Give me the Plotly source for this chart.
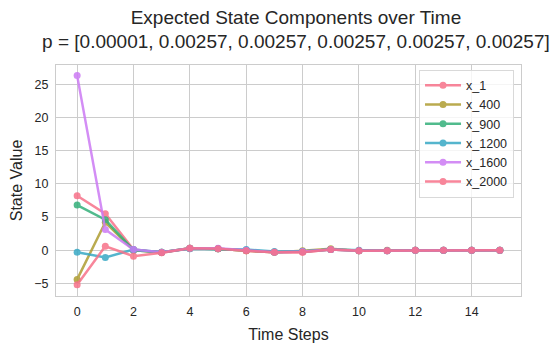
import plotly.graph_objects as go

# expected state components
time_steps = list(range(16))
series_names = ["x_1", "x_400", "x_900", "x_1200", "x_1600", "x_2000"]
x_1 = [8.2, 5.5, 0.1, -0.4, 0.3, 0.2, -0.1, -0.3, -0.3, 0.1, -0.1, -0.1, 0.0, 0.0, 0.0, 0.0]
x_400 = [-4.4, 4.2, 0.0, -0.3, 0.3, 0.2, -0.1, -0.3, -0.1, 0.2, -0.1, 0.0, 0.0, 0.0, 0.0, 0.0]
x_900 = [6.8, 4.6, 0.0, -0.3, 0.3, 0.2, 0.0, -0.3, -0.2, 0.1, -0.1, -0.1, 0.0, 0.0, 0.0, 0.0]
x_1200 = [-0.3, -1.1, 0.1, -0.3, 0.2, 0.2, 0.1, -0.2, -0.2, 0.1, 0.0, -0.1, 0.0, 0.0, 0.0, 0.0]
x_1600 = [26.3, 3.1, 0.1, -0.3, 0.3, 0.3, 0.0, -0.3, -0.2, 0.1, -0.1, -0.1, 0.0, 0.0, 0.0, 0.0]
x_2000 = [-5.2, 0.6, -0.9, -0.4, 0.3, 0.2, -0.1, -0.3, -0.3, 0.1, -0.1, -0.1, 0.0, 0.0, 0.0, 0.0]
all_series = [x_1, x_400, x_900, x_1200, x_1600, x_2000]

# husl palette, 5 colours cycled
colors = ["#f77189", "#ae9d31", "#33b07a", "#38a9c5", "#cc7af4", "#f77189"]

FONT = "Liberation Sans, Arial, sans-serif"

# page body has an 8px margin, so the figure is 8px smaller than the window
fig = go.Figure()
for name, values, color in zip(series_names, all_series, colors):
    fig.add_trace(go.Scatter(
        x=time_steps,
        y=values,
        name=name,
        mode="lines+markers",
        line=dict(color=color, width=2.5),
        marker=dict(color=color, size=7),
        opacity=0.85,
    ))

fig.update_layout(
    width=552,
    height=340,
    margin=dict(l=48, r=39, t=57, b=52, autoexpand=False),
    paper_bgcolor="white",
    plot_bgcolor="white",
    font=dict(family=FONT, color="#262626", size=12.5),
    title=dict(
        text="Expected State Components over Time<br>p = [0.00001, 0.00257, 0.00257, 0.00257, 0.00257, 0.00257]",
        x=0.516,
        xanchor="center",
        xref="paper",
        y=1 - 15.5 / 340,
        yanchor="middle",
        yref="container",
        automargin=False,
        font=dict(size=19, color="#262626"),
    ),
    showlegend=True,
    legend=dict(
        x=0.985,
        y=0.98,
        xanchor="right",
        yanchor="top",
        bgcolor="rgba(255,255,255,0.8)",
        bordercolor="#d9d9d9",
        borderwidth=1,
        font=dict(size=12.5),
        tracegroupgap=0,
        itemwidth=36,
    ),
)

fig.update_xaxes(
    range=[-0.75, 15.75],
    tickvals=[0, 2, 4, 6, 8, 10, 12, 14],
    showgrid=True,
    gridcolor="#cccccc",
    gridwidth=1,
    zeroline=False,
    showline=True,
    linecolor="#cccccc",
    mirror=True,
    ticks="",
    ticklabelstandoff=4,
    automargin=False,
    title=dict(text="Time Steps", font=dict(size=16), standoff=10),
)

fig.update_yaxes(
    range=[-6.9, 27.9],
    tickvals=[-5, 0, 5, 10, 15, 20, 25],
    showgrid=True,
    gridcolor="#cccccc",
    gridwidth=1,
    zeroline=False,
    showline=True,
    linecolor="#cccccc",
    mirror=True,
    ticks="",
    ticklabelstandoff=4,
    automargin=False,
    title=dict(text="State Value", font=dict(size=16), standoff=11),
)

fig.write_html("out.html")
